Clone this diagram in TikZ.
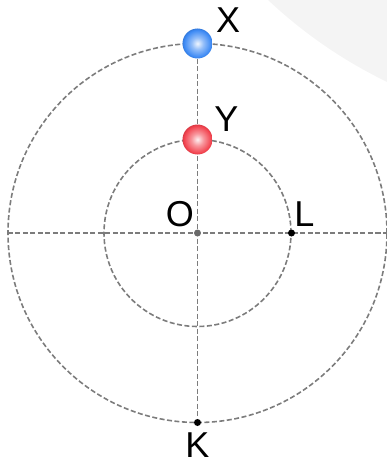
\documentclass[tikz,border=0pt]{standalone}
\usepackage{fontspec}
\setmainfont{Liberation Sans}
\usetikzlibrary{backgrounds}
\definecolor{guidegray}{HTML}{7C7C7C}
\definecolor{backdrop}{HTML}{F4F4F4}
\definecolor{origingray}{HTML}{6A6A6A}
\definecolor{ballblue}{HTML}{3A88F4}
\definecolor{ballred}{HTML}{F2414D}
\pgfdeclareradialshading{blueball}{\pgfpoint{0bp}{0bp}}{color(0bp)=(ballblue!8!white); color(10bp)=(ballblue!55!white); color(23bp)=(ballblue); color(25bp)=(ballblue!90!black); color(50bp)=(ballblue!90!black)}
\pgfdeclareradialshading{redball}{\pgfpoint{0bp}{0bp}}{color(0bp)=(ballred!8!white); color(10bp)=(ballred!55!white); color(23bp)=(ballred); color(25bp)=(ballred!90!black); color(50bp)=(ballred!90!black)}
\tikzset{
  guide/.style={draw=guidegray, line width=1.6pt, dash pattern=on 5pt off 2.5pt},
  ball/.style={circle, minimum size=30pt, inner sep=0pt, shading=#1},
  dot/.style={circle, fill=#1, minimum size=7pt, inner sep=0pt},
  letter/.style={inner sep=0pt, anchor=base, font=\fontsize{36}{40}\selectfont}
}
\begin{document}
\begin{tikzpicture}[x=1pt,y=1pt]
\useasboundingbox (-197.5,-228) rectangle (189.5,233);
\coordinate (o) at (0,0);
\coordinate (w) at (-189.5,0);
\coordinate (e) at (189.5,0);
\node[ball=blueball] (x) at (0,189.5) {};
\node[ball=redball] (y) at (0,93.5) {};
\node[dot=origingray] (c) at (o) {};
\node[dot=black] (l) at (94,0) {};
\node[dot=black] (k) at (0,-189.5) {};
\begin{scope}[on background layer]
  \clip (-197.5,-228) rectangle (189.5,233);
  \fill[backdrop] (396,579) circle (475);
  \draw[guide] (o) circle (93.5);
  \draw[guide] (o) circle (189.5);
  \draw[guide] (w) -- (e);
  \draw[guide] (x) -- (k);
\end{scope}
\node[letter] (xl) at (30.7,200.7) {X};
\node[letter] (yl) at (29,101.3) {Y};
\node[letter] (ol) at (-17.5,6.5) {O};
\node[letter] (ll) at (106.8,7) {L};
\node[letter] (kl) at (0,-224) {K};
\end{tikzpicture}
\end{document}
